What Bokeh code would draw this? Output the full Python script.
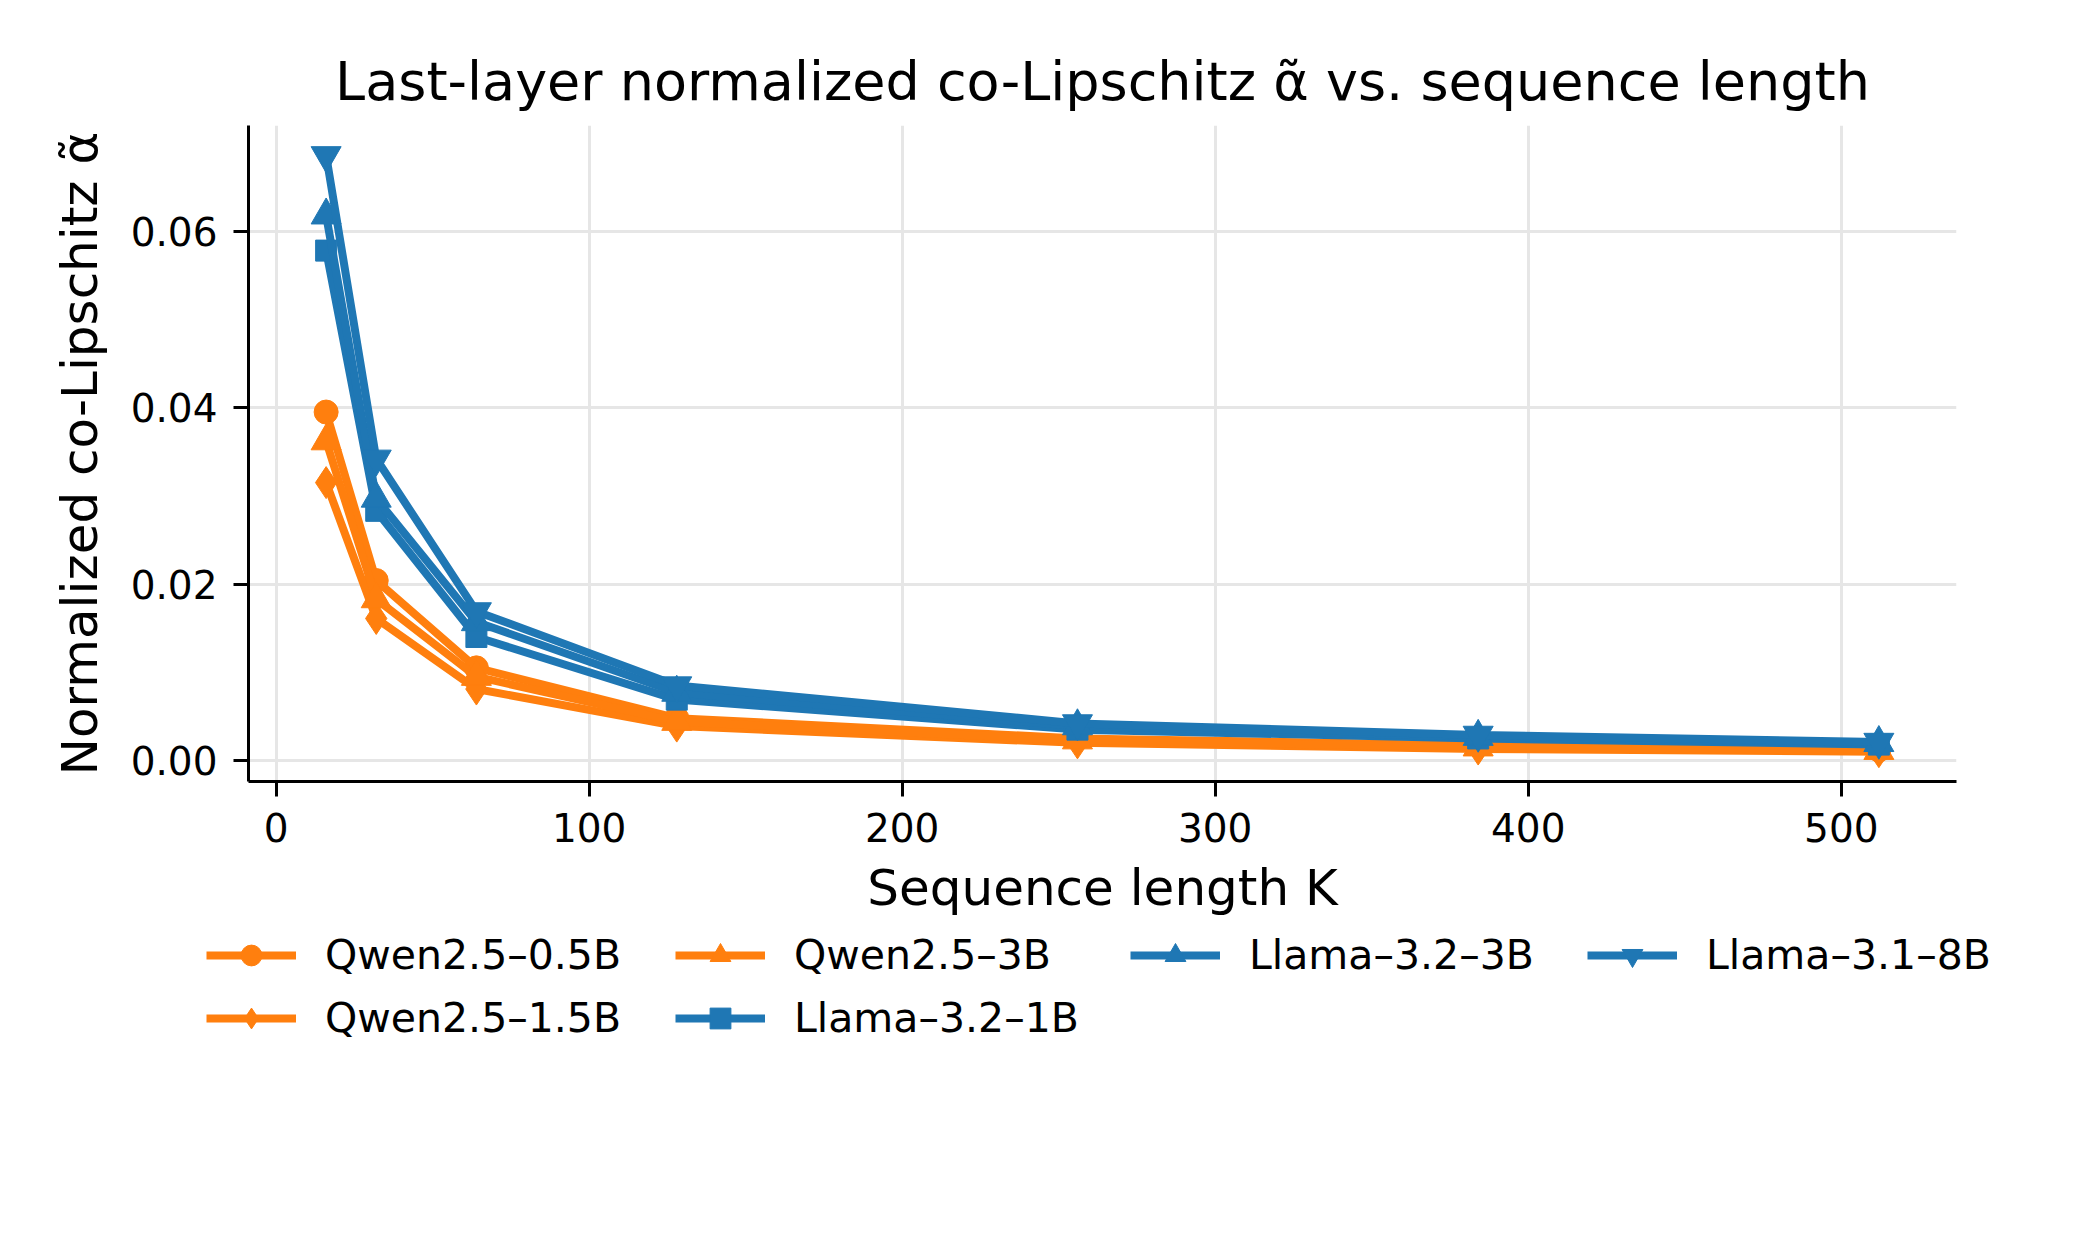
from bokeh.plotting import figure
from bokeh.layouts import column
from bokeh.models import Range1d, FixedTicker, NumeralTickFormatter, Legend, LegendItem
from bokeh.embed import file_html
from bokeh.resources import INLINE

# ---- data ----
K = [16, 32, 64, 128, 256, 384, 512]
qwen_05b = [0.0395, 0.0204, 0.0105, 0.0048, 0.0025, 0.0017, 0.0012]
qwen_15b = [0.0315, 0.0161, 0.0081, 0.0039, 0.0020, 0.0013, 0.0010]
qwen_3b = [0.0362, 0.0183, 0.0095, 0.0044, 0.0023, 0.0015, 0.0011]
llama_1b = [0.0578, 0.0283, 0.0140, 0.0069, 0.0035, 0.0025, 0.0018]
llama_3b = [0.0618, 0.0297, 0.0157, 0.0077, 0.0039, 0.0027, 0.0020]
llama_8b = [0.0686, 0.0342, 0.0169, 0.0085, 0.0042, 0.0029, 0.0021]

series_names = ["Qwen2.5–0.5B", "Qwen2.5–1.5B", "Qwen2.5–3B",
                "Llama–3.2–1B", "Llama–3.2–3B", "Llama–3.1–8B"]
series_values = [qwen_05b, qwen_15b, qwen_3b, llama_1b, llama_3b, llama_8b]
x_ticks = [0, 100, 200, 300, 400, 500]
y_ticks = [0.0, 0.02, 0.04, 0.06]

ORANGE = "#ff7f0e"
BLUE = "#1f77b4"
styles = [
    (ORANGE, "circle", 24),
    (ORANGE, "diamond", 32),
    (ORANGE, "triangle", 30),
    (BLUE, "square", 21),
    (BLUE, "triangle", 30),
    (BLUE, "inverted_triangle", 30),
]

FONT = "DejaVu Sans"
TOTAL_W = 248 + 1708 + 128

fig = figure(
    frame_width=1708, frame_height=656,
    min_border_left=248, min_border_right=128,
    min_border_top=125, min_border_bottom=148,
    x_range=Range1d(-8.8, 536.8), y_range=Range1d(-0.00238, 0.07198),
    output_backend="svg", toolbar_location=None,
    title="Last-layer normalized co-Lipschitz α̃ vs. sequence length",
)
fig.outline_line_color = None
fig.background_fill_color = "white"
fig.border_fill_color = "white"

fig.title.text_font = FONT
fig.title.text_font_size = "54px"
fig.title.text_font_style = "normal"
fig.title.align = "center"
fig.title.text_color = "black"
fig.title.standoff = 25

fig.xaxis.axis_label = "Sequence length K"
fig.yaxis.axis_label = "Normalized co-Lipschitz α̃"
for ax in (fig.xaxis, fig.yaxis):
    ax.axis_label_text_font = FONT
    ax.axis_label_text_font_size = "50px"
    ax.axis_label_text_font_style = "normal"
    ax.axis_label_text_color = "black"
    ax.major_label_text_font = FONT
    ax.major_label_text_font_size = "39px"
    ax.major_label_text_color = "black"
    ax.axis_line_width = 3
    ax.axis_line_color = "black"
    ax.major_tick_line_width = 3
    ax.major_tick_line_color = "black"
    ax.major_tick_out = 15
    ax.major_tick_in = 0
    ax.minor_tick_line_color = None

fig.xaxis.ticker = FixedTicker(ticks=x_ticks)
fig.yaxis.ticker = FixedTicker(ticks=y_ticks)
fig.yaxis.formatter = NumeralTickFormatter(format="0.00")
fig.xaxis.major_label_standoff = 16
fig.yaxis.major_label_standoff = 16
fig.xaxis.axis_label_standoff = 14
fig.yaxis.axis_label_standoff = 19

fig.grid.grid_line_color = "#e6e6e6"
fig.grid.grid_line_width = 3
fig.xgrid.ticker = FixedTicker(ticks=x_ticks)
fig.ygrid.ticker = FixedTicker(ticks=y_ticks)

for vals, (color, marker, size) in zip(series_values, styles):
    fig.line(K, vals, line_color=color, line_width=8)
    fig.scatter(K, vals, marker=marker, size=size, fill_color=color, line_color=color)

# ---- legend strip (separate figure below; same series, kept out of its view) ----
LEG_H = 240
lf = figure(
    frame_width=TOTAL_W, frame_height=LEG_H,
    min_border_left=0, min_border_right=0, min_border_top=0, min_border_bottom=0,
    x_range=Range1d(-2, -1), y_range=Range1d(-2, -1),
    x_axis_type=None, y_axis_type=None,
    output_backend="svg", toolbar_location=None,
)
lf.outline_line_color = None
lf.grid.visible = False

items = []
for name, vals, (color, marker, size) in zip(series_names, series_values, styles):
    lr = lf.line(K, vals, line_color=color, line_width=8)
    sr = lf.scatter(K, vals, marker=marker, size=size,
                    fill_color=color, line_color=color)
    items.append(LegendItem(label=name, renderers=[lr, sr]))

ITEM_H = 52
SP = 11
columns = [[items[0], items[1]], [items[2], items[3]], [items[4]], [items[5]]]
col_x = [206, 675, 1130, 1587]
for its, cx in zip(columns, col_x):
    h = len(its) * ITEM_H + (len(its) - 1) * SP
    leg = Legend(items=its, location=(cx, LEG_H - h), orientation="vertical")
    leg.label_text_font = FONT
    leg.label_text_font_size = "41px"
    leg.label_text_color = "black"
    leg.glyph_width = 90
    leg.glyph_height = ITEM_H
    leg.label_height = ITEM_H
    leg.label_standoff = 29
    leg.spacing = SP
    leg.padding = 0
    leg.margin = 0
    leg.border_line_alpha = 0
    leg.background_fill_alpha = 0
    lf.add_layout(leg)

p = column(fig, lf, spacing=0)

open("out.html", "w").write(file_html(p, INLINE))
